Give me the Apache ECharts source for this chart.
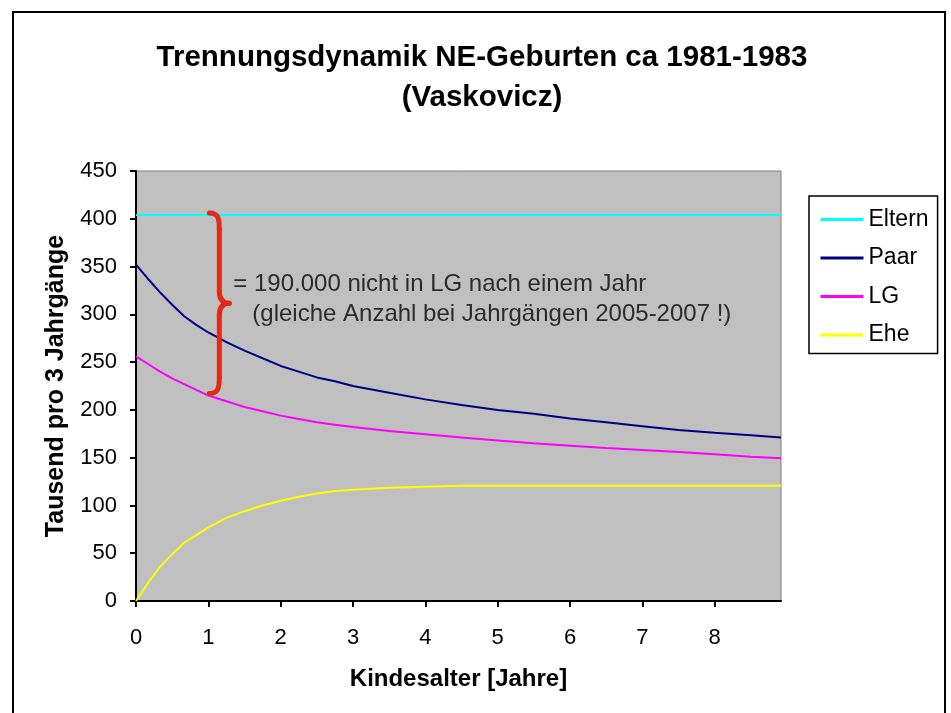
<!DOCTYPE html>
<html>
<head>
<meta charset="utf-8">
<script src="https://cdn.jsdelivr.net/npm/echarts@6/dist/echarts.min.js"></script>
<style>
  html, body { margin: 0; padding: 0; background: #fff; }
  #chart { width: 951px; height: 713px; }
</style>
</head>
<body>
<div id="chart"></div>
<script>
// Kindesalter in Monaten
var months = [0, 2, 4, 6, 8, 10, 12, 15, 18, 21, 24, 27, 30, 33, 36, 42, 48, 54, 60, 66, 72, 78, 84, 90, 96, 102, 107];
var eltern = [404, 404, 404, 404, 404, 404, 404, 404, 404, 404, 404, 404, 404, 404, 404, 404, 404, 404, 404, 404, 404, 404, 404, 404, 404, 404, 404];
var paar = [352, 337, 323, 310, 298, 289, 281, 271, 262, 254, 246, 240, 234, 230, 225, 218, 211, 205, 200, 196, 191, 187, 183, 179, 176, 173.5, 171];
var lg = [256, 248, 240, 233, 227, 221, 215, 209, 203, 198.5, 194, 190.5, 187, 184.5, 182, 178, 174.5, 171, 168, 165, 162.5, 160, 158, 156, 153.5, 151, 149.5];
var ehe = [0, 19, 36, 49, 61, 69, 77, 87, 94, 100, 105, 109, 112.5, 115, 116.5, 118.5, 119.5, 120.5, 120.5, 120.5, 120.5, 120.5, 120.5, 120.5, 120.5, 120.5, 120.5];
var yearTicks = [0, 12, 24, 36, 48, 60, 72, 84, 96];
var noteLines = ['= 190.000 nicht in LG nach einem Jahr', '(gleiche Anzahl bei Jahrgängen 2005-2007 !)'];

var font = '"Liberation Sans", Arial, sans-serif';

function pairs (vals) {
  return months.map(function (m, i) { return [m, vals[i]] })
}

function lineSeries (name, vals, color) {
  return {
    name: name,
    type: 'line',
    data: pairs(vals),
    symbol: 'none',
    lineStyle: { color: color, width: 2 },
    itemStyle: { color: color }
  }
}

var myChart = echarts.init(document.getElementById('chart'))
var option = {
  animation: false,
  backgroundColor: '#fff',
  title: {
    text: 'Trennungsdynamik NE-Geburten ca 1981-1983\n(Vaskovicz)',
    left: 477,
    top: 33,
    textAlign: 'center',
    textStyle: { fontFamily: font, fontSize: 29.5, fontWeight: 'bold', color: '#000', lineHeight: 40 }
  },
  legend: {
    orient: 'vertical',
    left: 809,
    top: 196,
    padding: [12, 9, 7, 10],
    itemWidth: 43,
    itemHeight: 18,
    itemGap: 15.5,
    borderColor: '#000',
    borderWidth: 1.5,
    borderRadius: 0,
    backgroundColor: '#fff',
    data: ['Eltern', 'Paar', 'LG', 'Ehe'],
    itemStyle: { opacity: 0, borderWidth: 0 },
    lineStyle: { width: 3 },
    textStyle: { fontFamily: font, fontSize: 23, color: '#000' }
  },
  grid: {
    left: 136,
    right: 170,
    top: 171,
    bottom: 112,
    show: true,
    backgroundColor: '#C0C0C0',
    borderColor: '#808080',
    borderWidth: 1
  },
  xAxis: {
    type: 'value',
    min: 0,
    max: 107,
    name: 'Kindesalter [Jahre]',
    nameLocation: 'middle',
    nameGap: 66,
    nameTextStyle: { fontFamily: font, fontSize: 24, fontWeight: 'bold', color: '#000' },
    axisLine: { show: true, lineStyle: { color: '#000', width: 2 } },
    axisTick: { show: true, length: 6, customValues: yearTicks, lineStyle: { color: '#000', width: 2 } },
    axisLabel: {
      customValues: yearTicks,
      margin: 26,
      fontFamily: font,
      fontSize: 22,
      color: '#000',
      formatter: function (v) { return String(v / 12) }
    },
    splitLine: { show: false }
  },
  yAxis: {
    type: 'value',
    min: 0,
    max: 450,
    interval: 50,
    name: 'Tausend pro 3 Jahrgänge',
    nameLocation: 'middle',
    nameGap: 67,
    nameTextStyle: { fontFamily: font, fontSize: 25, fontWeight: 'bold', color: '#000' },
    axisLine: { show: true, lineStyle: { color: '#000', width: 2 } },
    axisTick: { show: true, length: 6, lineStyle: { color: '#000', width: 2 } },
    axisLabel: { margin: 19, fontFamily: font, fontSize: 22, color: '#000' },
    splitLine: { show: false }
  },
  series: [
    lineSeries('Eltern', eltern, '#00FFFF'),
    lineSeries('Paar', paar, '#000080'),
    lineSeries('LG', lg, '#FF00FF'),
    lineSeries('Ehe', ehe, '#FFFF00')
  ]
}
myChart.setOption(option)

// geschweifte Klammer zwischen Eltern und LG nach einem Jahr
var pTop = myChart.convertToPixel({ gridIndex: 0 }, [12, eltern[6]])
var pBot = myChart.convertToPixel({ gridIndex: 0 }, [12, lg[6]])
var x0 = pTop[0] + 1
var yT = pTop[1] - 2
var yB = pBot[1] - 2
var yM = (yT + yB) / 2
var braceStyle = { fill: 'none', stroke: '#DD2A1B', lineWidth: 5, lineCap: 'round', lineJoin: 'round' }

function curve (x1, y1, c1x, c1y, c2x, c2y, x2, y2) {
  return {
    type: 'bezierCurve', silent: true, z: 100,
    shape: { x1: x1, y1: y1, cpx1: c1x, cpy1: c1y, cpx2: c2x, cpy2: c2y, x2: x2, y2: y2 },
    style: braceStyle
  }
}
function seg (x1, y1, x2, y2) {
  return {
    type: 'line', silent: true, z: 100,
    shape: { x1: x1, y1: y1, x2: x2, y2: y2 },
    style: braceStyle
  }
}

myChart.setOption({
  graphic: [
    {
      type: 'rect',
      silent: true,
      z: -1,
      shape: { x: 13, y: 12, width: 932, height: 740 },
      style: { fill: 'none', stroke: '#000', lineWidth: 2 }
    },
    curve(x0, yT, x0 + 8, yT, x0 + 10, yT + 4, x0 + 10, yT + 16),
    seg(x0 + 10, yT + 16, x0 + 10, yM - 12),
    curve(x0 + 10, yM - 12, x0 + 10, yM - 3, x0 + 14, yM, x0 + 20, yM),
    curve(x0 + 20, yM, x0 + 14, yM, x0 + 10, yM + 3, x0 + 10, yM + 12),
    seg(x0 + 10, yM + 12, x0 + 10, yB - 16),
    curve(x0 + 10, yB - 16, x0 + 10, yB - 4, x0 + 8, yB, x0, yB),
    {
      type: 'text',
      silent: true,
      z: 100,
      x: x0 + 24,
      y: yM - 19,
      style: { text: noteLines[0], font: '24px ' + font, fill: '#2b2b2b', verticalAlign: 'middle' }
    },
    {
      type: 'text',
      silent: true,
      z: 100,
      x: x0 + 43,
      y: yM + 11,
      style: { text: noteLines[1], font: '24px ' + font, fill: '#2b2b2b', verticalAlign: 'middle' }
    }
  ]
})
</script>
</body>
</html>
